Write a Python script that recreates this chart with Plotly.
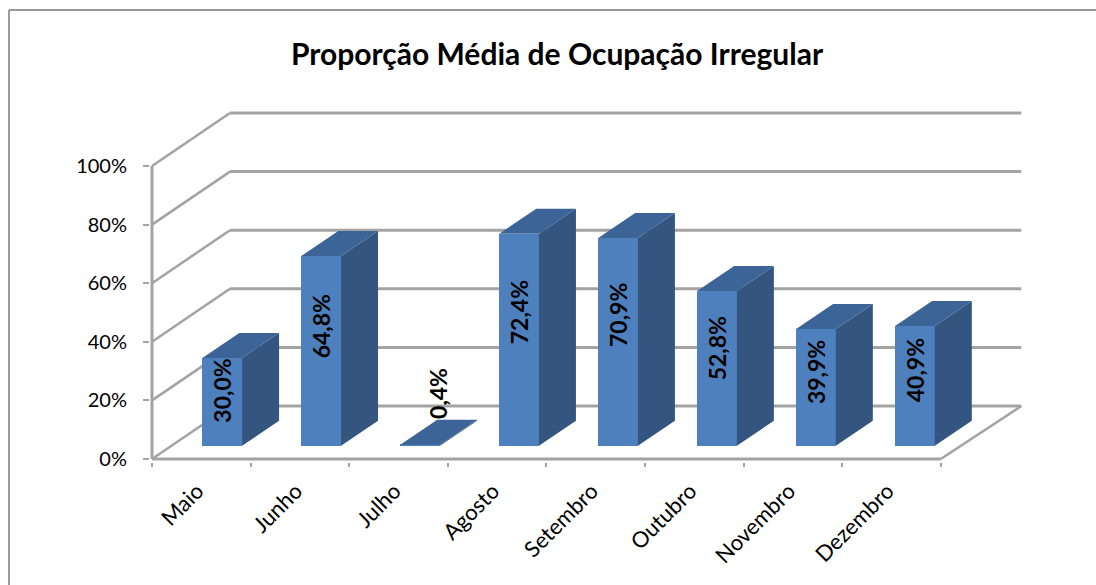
import plotly.graph_objects as go

# --- data ---
months = ["Maio", "Junho", "Julho", "Agosto", "Setembro", "Outubro", "Novembro", "Dezembro"]
values = [30.0, 64.8, 0.4, 72.4, 70.9, 52.8, 39.9, 40.9]
y_ticks = [0, 20, 40, 60, 80, 100]

# --- geometry of the oblique projection (in axis units) ---
W, H = 1096, 585
X0_PX, Y0_PX = 152, 459        # pixel of the axes' origin corner
PX_PER_CAT, PX_PER_PCT = 98.6, 2.93
WALL_DX, WALL_DY = 78 / PX_PER_CAT, 53 / PX_PER_PCT
WALL_EXT = 2.5 / PX_PER_CAT
BAR_STEP = 98.96 / PX_PER_CAT
BAR_SHIFT_X, BAR_BASE = 0.212, 4.5
BAR_W = 0.403
BAR_DX, BAR_DY = 37 / PX_PER_CAT, 25 / PX_PER_PCT
LEFT, RIGHT, TOP, BOTTOM_EPS, LEFT_EPS = 150, 1030, 100, 3, 2

FONT = "Lato"
GRID = "#a3a3a3"
FRONT, SIDE, ROOF = "#4e80bd", "#33557f", "#3d6496"

x_start = -0.5
x_end = x_start + len(months)

fig = go.Figure()

centers = [i * BAR_STEP + BAR_SHIFT_X for i in range(len(months))]

# front faces
fig.add_trace(go.Bar(
    x=centers,
    y=values,
    base=[BAR_BASE] * len(values),
    width=BAR_W,
    marker=dict(color=FRONT, line=dict(width=0)),
    hoverinfo="skip",
))

# side and roof faces, derived from the values
side_x, side_y, roof_x, roof_y = [], [], [], []
for c, v in zip(centers, values):
    xl = c - BAR_W / 2
    xr = c + BAR_W / 2
    y0 = BAR_BASE
    y1 = BAR_BASE + v
    side_x += [xr, xr + BAR_DX, xr + BAR_DX, xr, xr, None]
    side_y += [y0, y0 + BAR_DY, y1 + BAR_DY, y1, y0, None]
    roof_x += [xl, xr, xr + BAR_DX, xl + BAR_DX, xl, None]
    roof_y += [y1, y1, y1 + BAR_DY, y1 + BAR_DY, y1, None]
fig.add_trace(go.Scatter(x=side_x, y=side_y, mode="none", fill="toself", fillcolor=SIDE, hoverinfo="skip"))
fig.add_trace(go.Scatter(x=roof_x, y=roof_y, mode="none", fill="toself", fillcolor=ROOF, hoverinfo="skip"))

# walls and floor, underneath the bars
shapes = []
def seg(x0, y0, x1, y1, w=3):
    shapes.append(dict(type="line", xref="x", yref="y", x0=x0, y0=y0, x1=x1, y1=y1,
                       layer="below", line=dict(color=GRID, width=w)))
for t in y_ticks:
    seg(x_start, t, x_start + WALL_DX, t + WALL_DY, 2.5)
    seg(x_start + WALL_DX, t + WALL_DY, x_end + WALL_DX + WALL_EXT, t + WALL_DY)
seg(x_start, 0, x_start, y_ticks[-1])
seg(x_start, 0, x_end, 0)
seg(x_end, 0, x_end + WALL_DX + WALL_EXT, WALL_DY, 2.5)

# chart frame: open to the right and bottom of the image
pw, ph = RIGHT - LEFT, Y0_PX + BOTTOM_EPS - TOP
def px(x): return (x - LEFT) / pw
def py(y): return 1 - (y - TOP) / ph
for (a, b, c, d) in [(9, 10, 9, H), (9, 10, W, 10)]:
    shapes.append(dict(type="line", xref="paper", yref="paper", x0=px(a), y0=py(b), x1=px(c), y1=py(d),
                       layer="below", line=dict(color="#9a9a9a", width=2)))

# data labels
annots = []
for c, v in zip(centers, values):
    lab = f"{v:.1f}%".replace(".", ",")
    if v < 5:
        y = BAR_BASE + 18
        xs = 0.18
    else:
        y = BAR_BASE + 0.63 * v
        xs = 0.0
    annots.append(dict(x=c + xs, y=y, xref="x", yref="y", text=lab, showarrow=False, textangle=-90,
                       font=dict(family=FONT, size=23, color="black", weight="bold")))

fig.update_layout(
    width=W, height=H, showlegend=False, bargap=0,
    paper_bgcolor="white", plot_bgcolor="rgba(0,0,0,0)",
    margin=dict(l=LEFT, r=W - RIGHT, t=TOP, b=H - Y0_PX - BOTTOM_EPS, pad=0),
    title=dict(text="Proporção Média de Ocupação Irregular", x=557 / W, xanchor="center", xref="container",
               y=1 - 54 / H, yanchor="middle", yref="container",
               font=dict(family=FONT, size=30, color="black", weight="bold")),
    xaxis=dict(range=[x_start - LEFT_EPS / PX_PER_CAT, x_start + (RIGHT - X0_PX) / PX_PER_CAT],
               tickmode="array", tickvals=[i - 0.04 for i in range(len(months))], ticktext=months,
               tickangle=-45, ticks="", showgrid=False, zeroline=False, showline=False,
               ticklabelstandoff=11,
               tickfont=dict(family=FONT, size=22, color="black"),
               minor=dict(tickmode="array", tickvals=[i + x_start for i in range(len(months) + 1)],
                          ticks="outside", ticklen=4, tickwidth=2, tickcolor=GRID, showgrid=False)),
    yaxis=dict(range=[-BOTTOM_EPS / PX_PER_PCT, (Y0_PX - TOP) / PX_PER_PCT],
               tickmode="array", tickvals=y_ticks, ticktext=[f"{t}%" for t in y_ticks],
               ticks="outside", ticklen=6, tickwidth=2, tickcolor=GRID, showgrid=False, zeroline=False,
               showline=False, ticklabelstandoff=12,
               tickfont=dict(family=FONT, size=20, color="black")),
    shapes=shapes, annotations=annots,
)

fig.write_html("out.html", post_script='document.body.style.margin="0";document.body.style.overflow="hidden";',
               config={"displayModeBar": False})
